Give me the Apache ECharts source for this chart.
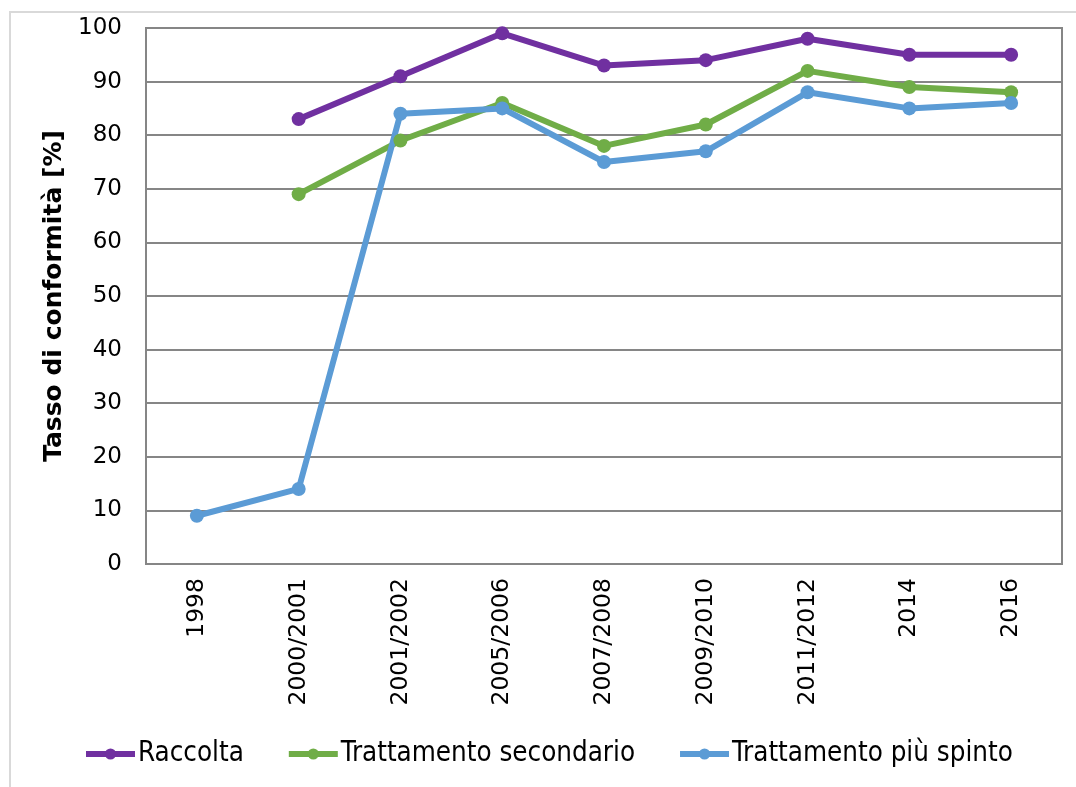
<!DOCTYPE html>
<html>
<head>
<meta charset="utf-8">
<script src="https://cdn.jsdelivr.net/npm/echarts@6/dist/echarts.min.js"></script>
<style>
  html, body { margin: 0; padding: 0; background: #fff; }
  #frame { position: absolute; left: 9px; top: 11px; width: 1080px; height: 790px; border: 2px solid #d9d9d9; box-sizing: border-box; }
  #chart { width: 1076px; height: 787px; }
</style>
</head>
<body>
<div id="frame"></div>
<div id="chart"></div>
<script>
const categories = ['1998', '2000/2001', '2001/2002', '2005/2006', '2007/2008', '2009/2010', '2011/2012', '2014', '2016'];
const raccolta = [null, 83, 91, 99, 93, 94, 98, 95, 95];
const secondario = [null, 69, 79, 86, 78, 82, 92, 89, 88];
const spinto = [9, 14, 84, 85, 75, 77, 88, 85, 86];

const chart = echarts.init(document.getElementById('chart'));

const mkSeries = (name, data, color) => ({
  name: name,
  type: 'line',
  data: data,
  symbol: 'circle',
  symbolSize: 14,
  lineStyle: { width: 6, color: color },
  itemStyle: { color: color },
  connectNulls: false,
  animation: false
});

chart.setOption({
  animation: false,
  textStyle: { fontFamily: 'DejaVu Sans' },
  grid: { left: 146, right: 14, top: 28, bottom: 223 },
  legend: {
    bottom: 14,
    left: 78,
    itemWidth: 49,
    itemHeight: 14,
    itemGap: 42,
    lineStyle: { width: 6 },
    textStyle: { fontFamily: 'DejaVu Sans Condensed, Liberation Sans Narrow, DejaVu Sans', fontSize: 27.5, color: '#000', padding: [0, 0, 0, -2] },
    data: ['Raccolta', 'Trattamento secondario', 'Trattamento più spinto']
  },
  xAxis: {
    type: 'category',
    data: categories,
    boundaryGap: true,
    axisLine: { lineStyle: { color: '#868686', width: 2 } },
    axisTick: { show: false },
    axisLabel: { rotate: 90, fontSize: 23.5, color: '#000', margin: 14, interval: 0 },
    splitLine: { show: false }
  },
  yAxis: {
    type: 'value',
    min: 0,
    max: 100,
    interval: 10,
    name: 'Tasso di conformità [%]',
    nameLocation: 'middle',
    nameGap: 76,
    nameTextStyle: { fontSize: 25, fontWeight: 'bold', color: '#000' },
    axisLine: { show: true, lineStyle: { color: '#868686', width: 2 } },
    axisTick: { show: false },
    axisLabel: { fontSize: 23, color: '#000', margin: 24 },
    splitLine: { lineStyle: { color: '#868686', width: 2 } }
  },
  series: [
    mkSeries('Raccolta', raccolta, '#7030A0'),
    mkSeries('Trattamento secondario', secondario, '#70AD47'),
    mkSeries('Trattamento più spinto', spinto, '#5B9BD5')
  ],
  graphic: [{
    type: 'rect',
    shape: { x: 146, y: 28, width: 916, height: 536 },
    style: { fill: 'none', stroke: '#868686', lineWidth: 2 },
    silent: true,
    z: -1
  }]
});
</script>
</body>
</html>
